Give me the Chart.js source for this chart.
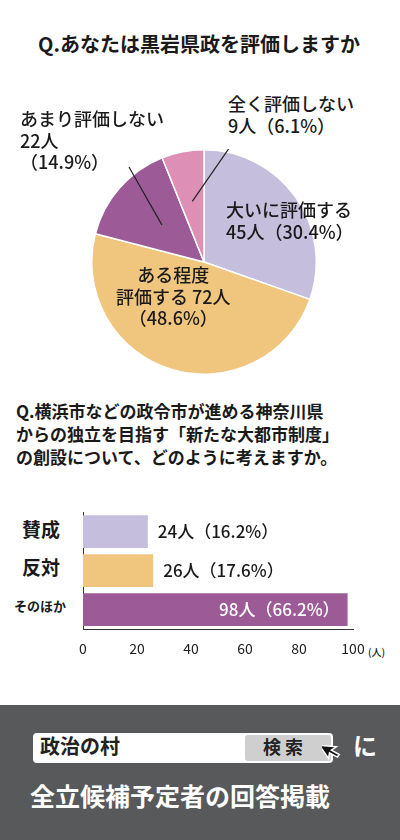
<!DOCTYPE html>
<html><head><meta charset="utf-8">
<script src="https://cdn.jsdelivr.net/npm/chart.js@4/dist/chart.umd.min.js"></script>
<style>
body{margin:0;width:400px;height:840px;position:relative;background:#fff;font-family:"Noto Sans CJK JP",sans-serif;color:#1a1a1a;overflow:hidden}
.t{position:absolute;white-space:nowrap;line-height:1.2;font-weight:500}
</style></head><body>
<div class="t" style="left:38px;top:32px;font-size:20px;font-weight:bold">Q.あなたは黒岩県政を評価しますか</div>
<div style="position:absolute;left:91px;top:149px;width:226px;height:226px"><canvas id="pie"></canvas></div>
<div class="t" style="left:20px;top:108px;font-size:18px">あまり評価しない<br>22人<br>（14.9%）</div>
<div class="t" style="left:228px;top:93px;font-size:18px">全く評価しない<br>9人（6.1%）</div>
<div class="t" style="left:226px;top:199px;font-size:18px">大いに評価する<br>45人（30.4%）</div>
<div class="t" style="left:116px;top:264px;font-size:18px;text-align:center">ある程度<br>評価する 72人<br>（48.6%）</div>
<div class="t" style="left:16px;top:400px;font-size:17px;font-weight:bold;line-height:1.35">Q.横浜市などの政令市が進める神奈川県<br>からの独立を目指す「新たな大都市制度」<br>の創設について、どのように考えますか。</div>
<div class="t" style="left:22px;top:518px;font-size:19px;font-weight:bold">賛成</div>
<div class="t" style="left:22px;top:556px;font-size:19px;font-weight:bold">反対</div>
<div class="t" style="left:14px;top:598px;font-size:13px;font-weight:bold">そのほか</div>
<div class="t" style="left:368px;top:646px;font-size:10px">(人)</div>
<div style="position:absolute;left:0;top:505px;width:400px;height:155px"><canvas id="bar"></canvas></div>
<div style="position:absolute;left:0;top:705px;width:400px;height:135px;background:#58595b"></div>
<div style="position:absolute;left:33px;top:733px;width:300px;height:30px;background:#fff;border-radius:4px"></div>
<div style="position:absolute;left:245px;top:735px;width:86px;height:26px;background:#cfcfcf;border-radius:3px"></div>
<div class="t" style="left:40px;top:734px;font-size:20px;font-weight:bold;color:#222">政治の村</div>
<div class="t" style="left:263px;top:736px;font-size:18px;font-weight:bold;color:#222;letter-spacing:4px">検索</div>
<svg style="position:absolute;left:322px;top:738px" width="28" height="26" viewBox="0 0 28 26"><path d="M2 2 L2 18 L6 14 L10 22 L13 21 L9 13 L15 13 Z" transform="rotate(-35 8 12)" fill="#111" stroke="#fff" stroke-width="1.5"/></svg>
<div class="t" style="left:353px;top:731px;font-size:24px;font-weight:bold;color:#fff">に</div>
<div class="t" style="left:30px;top:780px;font-size:25px;font-weight:bold;color:#fff">全立候補予定者の回答掲載</div>
<script>
const pieLabels=["大いに評価する","ある程度評価する","あまり評価しない","全く評価しない"];
const pieValues=[45,72,22,9];
const pieColors=["#c5bedd","#f0c57e","#9c5b96","#dd8fb6"];
const barLabels=["賛成","反対","そのほか"];
const barValues=[24,26,98];
const barTexts=["24人（16.2%）","26人（17.6%）","98人（66.2%）"];
const barColors=["#c5bedd","#f0c57e","#9c5b96"];
const xTicks=[0,20,40,60,80,100];

const leader={id:'leader',afterDraw(c){const m=c.getDatasetMeta(0).data;const x=c.ctx;x.save();x.strokeStyle='#222';x.lineWidth=1.2;
 [[2,0.5],[3,0.55]].forEach(([i,f])=>{const a=m[i];const ang=(a.startAngle+a.endAngle)/2;const r=a.outerRadius*f;
 const px=a.x+Math.cos(ang)*r,py=a.y+Math.sin(ang)*r;x.beginPath();x.moveTo(px,py);
 if(i==2)x.lineTo(a.x-75,a.y-95);else x.lineTo(a.x+28,a.y-118);x.stroke();});x.restore();}};
new Chart(document.getElementById('pie'),{type:'pie',data:{labels:pieLabels,datasets:[{data:pieValues,backgroundColor:pieColors,borderColor:'#fff',borderWidth:1.5}]},
options:{responsive:true,maintainAspectRatio:false,animation:false,plugins:{legend:{display:false},tooltip:{enabled:false}}},plugins:[leader]});

const vals={id:'vals',afterDatasetsDraw(c){const x=c.ctx;c.getDatasetMeta(0).data.forEach((b,i)=>{x.save();x.font='500 17px "Noto Sans CJK JP"';x.textBaseline='middle';
 if(barValues[i]>60){x.fillStyle='#fff';x.textAlign='right';x.fillText(barTexts[i],b.x-8,b.y);}else{x.fillStyle='#1a1a1a';x.textAlign='left';x.fillText(barTexts[i],b.x+10,b.y);}x.restore();});}};
new Chart(document.getElementById('bar'),{type:'bar',data:{labels:barLabels,datasets:[{data:barValues,backgroundColor:barColors,barPercentage:0.84,categoryPercentage:1}]},
options:{indexAxis:'y',responsive:true,maintainAspectRatio:false,animation:false,layout:{padding:{left:83,right:47,top:7,bottom:0}},
plugins:{legend:{display:false},tooltip:{enabled:false}},
scales:{x:{min:0,max:100,afterBuildTicks(s){s.ticks=xTicks.map(v=>({value:v}));},grid:{display:false},border:{color:'#333'},ticks:{color:'#222',font:{size:14,family:'"Noto Sans CJK JP"'}}},
y:{afterFit(s){s.width=0;},ticks:{display:false},grid:{display:false},border:{color:'#333'}}}},plugins:[vals]});
</script></body></html>
